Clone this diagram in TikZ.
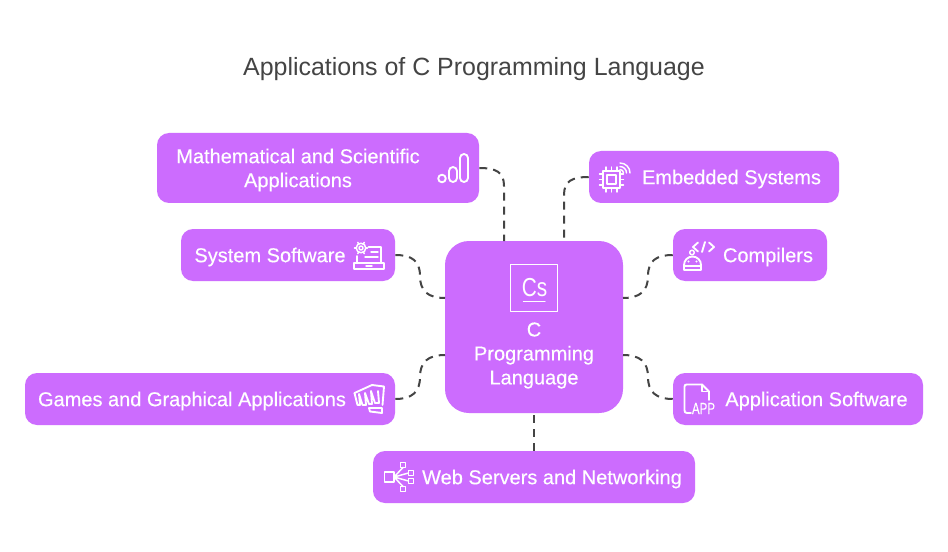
\documentclass[tikz,border=0pt]{standalone}
\usepackage{fontspec}
\setmainfont{Liberation Sans}
\newfontface\labelface[FakeBold=0.3]{Liberation Sans}
\usetikzlibrary{calc}
\definecolor{boxfill}{HTML}{CC6CFE}
\definecolor{inkdark}{HTML}{444444}
\tikzset{
  x=0.75pt,y=-0.75pt,
  card/.style n args={2}{fill=boxfill,draw=none,inner sep=0pt,rounded corners=9pt,minimum width=#1*0.75pt,minimum height=#2*0.75pt},
  hub/.style n args={2}{fill=boxfill,draw=none,inner sep=0pt,rounded corners=18pt,minimum width=#1*0.75pt,minimum height=#2*0.75pt},
  label/.style={text=white,inner sep=0pt,align=center,font=\labelface\fontsize{15}{18}\selectfont},
  titletext/.style={text=inkdark,inner sep=0pt,font=\fontsize{18.7}{22}\selectfont},
  link/.style={draw=inkdark,line width=1.5pt,dash pattern=on 6pt off 4.5pt},
  icon/.style={draw=white,line width=1.4pt,line join=round,line cap=round},
  thinicon/.style={draw=white,line width=1.1pt,line join=round,line cap=round},
}
\begin{document}
\begin{tikzpicture}
\useasboundingbox (0,0) rectangle (948,552);
\fill[white] (0,0) rectangle (948,552);
\node[titletext] (title) at (474,69.5) {Applications of C Programming Language};

\node[hub={178}{172}] (center) at (534,327) {};
\node[card={322}{70}] (math) at (318,168) {};
\node[card={214}{52}] (sys) at (288,255) {};
\node[card={370}{52}] (games) at (210,399) {};
\node[card={322}{52}] (web) at (534,477) {};
\node[card={250}{52}] (app) at (798,399) {};
\node[card={154}{52}] (comp) at (750,255) {};
\node[card={250}{52}] (emb) at (714,177) {};

\coordinate (cTopL) at (504,241);
\coordinate (cTopR) at (564,241);
\coordinate (cLeftU) at (445,298);
\coordinate (cLeftD) at (445,355);
\coordinate (cRightU) at (623,298);
\coordinate (cRightD) at (623,355);
\coordinate (cBot) at (534,413);

\draw[link] (math.east) .. controls (496,168) and (504,172) .. (504,186) -- (cTopL);
\draw[link] (emb.west) .. controls (572,177) and (564,181) .. (564,195) -- (cTopR);
\draw[link] (sys.east) .. controls (412,255) and (420,261) .. (420,276) .. controls (420,291) and (428,298) .. (cLeftU);
\draw[link] (comp.west) .. controls (656,255) and (648,261) .. (648,276) .. controls (648,291) and (640,298) .. (cRightU);
\draw[link] (games.east) .. controls (412,399) and (420,392) .. (420,377) .. controls (420,362) and (428,355) .. (cLeftD);
\draw[link] (app.west) .. controls (656,399) and (648,392) .. (648,377) .. controls (648,362) and (640,355) .. (cRightD);
\draw[link] (web.north) -- (cBot);

\node[label] (tmath) at (298,170) {Mathematical and Scientific\\Applications};
\node[label] (tsys) at (270,257) {System Software};
\node[label] (tgames) at (192,401) {Games and Graphical Applications};
\node[label] (tweb) at (552,479) {Web Servers and Networking};
\node[label] (tapp) at (816.5,401) {Application Software};
\node[label] (tcomp) at (768,257) {Compilers};
\node[label] (temb) at (731.5,179) {Embedded Systems};
\node[label] (tcenter) at (534,355.5) {C\\Programming\\Language};

% hub icon
\draw[thinicon] (510.5,264.5) rectangle (557.5,311.5);
\node[text=white,inner sep=0pt,font=\fontsize{19.5}{20}\selectfont,xscale=0.8] (cs) at (534.5,288) {Cs};
\draw[thinicon] (523.5,301.5) -- (545,301.5);

% math icon
\draw[icon] (442,178.5) circle (3.8);
\draw[icon] (449,171) arc (180:360:4) -- (457,178) arc (0:180:4) -- cycle;
\draw[icon] (460,158) arc (180:360:4) -- (468,178) arc (0:180:4) -- cycle;

% system software icon
\draw[thinicon] (361,248) circle (2);
\foreach \a in {0,60,...,300} \draw[thinicon] ($(361,248)+(\a:4.5)$) -- ($(361,248)+(\a:6.5)$);
\draw[thinicon] (361,248) circle (4.8);
\draw[icon] (368.5,247) -- (381,247) -- (381,263);
\draw[icon] (357,256) -- (357,263);
\draw[icon] (354,263) -- (384,263) -- (384,269) -- (354,269) -- cycle;
\draw[thinicon] (371,252) -- (378,252) (365,257) -- (378,257) (366,266) -- (372,266);

% embedded icon
\draw[icon] (603,171) rectangle (620,188);
\draw[thinicon] (607,175) rectangle (616,184);
\foreach \x in {606,611.5,617} \draw[thinicon] (\x,167) -- (\x,171) (\x,188) -- (\x,192);
\foreach \y in {174,179.5,185} \draw[thinicon] (599.5,\y) -- (603,\y) (620,\y) -- (623.5,\y);
\draw[thinicon] (620,169.5) arc (270:360:3.5);
\draw[thinicon] (620,166.5) arc (270:360:6.5);
\draw[thinicon] (620,163) arc (270:360:10);

% compilers icon
\draw[icon] (698,242.5) -- (693,247) -- (698,251.5);
\draw[icon] (709,242.5) -- (714,247) -- (709,251.5);
\draw[icon] (705,242) -- (702,252);
\draw[icon] (684,270) -- (701,270) -- (701,265) arc (0:-180:8.5) -- cycle;
\draw[thinicon] (684,266) -- (701,266);
\fill[white] (688.5,261.5) circle (1.2) (696.5,261.5) circle (1.2);
\draw[thinicon] (692,252.5) circle (2.3);

% games icon
\draw[icon] (354.5,393) -- (372,385) -- (384,386.5) -- (382.5,405);
\draw[icon] (354.5,393) -- (357.5,405) -- (360,405) -- (359,394) -- (362.5,405) -- (366,405) -- (365,393) -- (369,404) -- (372,404) -- (371,391) -- (375,403) -- (379,403) -- (378,391);
\draw[icon] (369,408) -- (382,408) -- (382,413) -- (370,411.5) -- cycle;

% web icon
\draw[icon] (384.5,472) rectangle (394,482);
\draw[thinicon] (400.5,462.5) rectangle (405.5,467.5);
\draw[thinicon] (408.5,470.5) rectangle (413.5,475.5);
\draw[thinicon] (408.5,478.5) rectangle (413.5,483.5);
\draw[thinicon] (400.5,486.5) rectangle (405.5,491.5);
\draw[thinicon] (394,477) -- (403,467.5) (394,477) -- (408.5,473) (394,477) -- (408.5,481) (394,477) -- (403,486.5);

% application icon
\draw[icon] (691,413) -- (687,413) .. controls (685,413) and (684.5,412) .. (684.5,410) -- (684.5,387) .. controls (684.5,385) and (685,384.5) .. (687,384.5) -- (702,384.5) -- (709,391.5) -- (709,400);
\draw[icon] (702,384.5) -- (702,391.5) -- (709,391.5);
\node[text=white,inner sep=0pt,font=\labelface\fontsize{12}{12}\selectfont,xscale=0.72] (apptxt) at (703.5,408.5) {APP};
\end{tikzpicture}
\end{document}
